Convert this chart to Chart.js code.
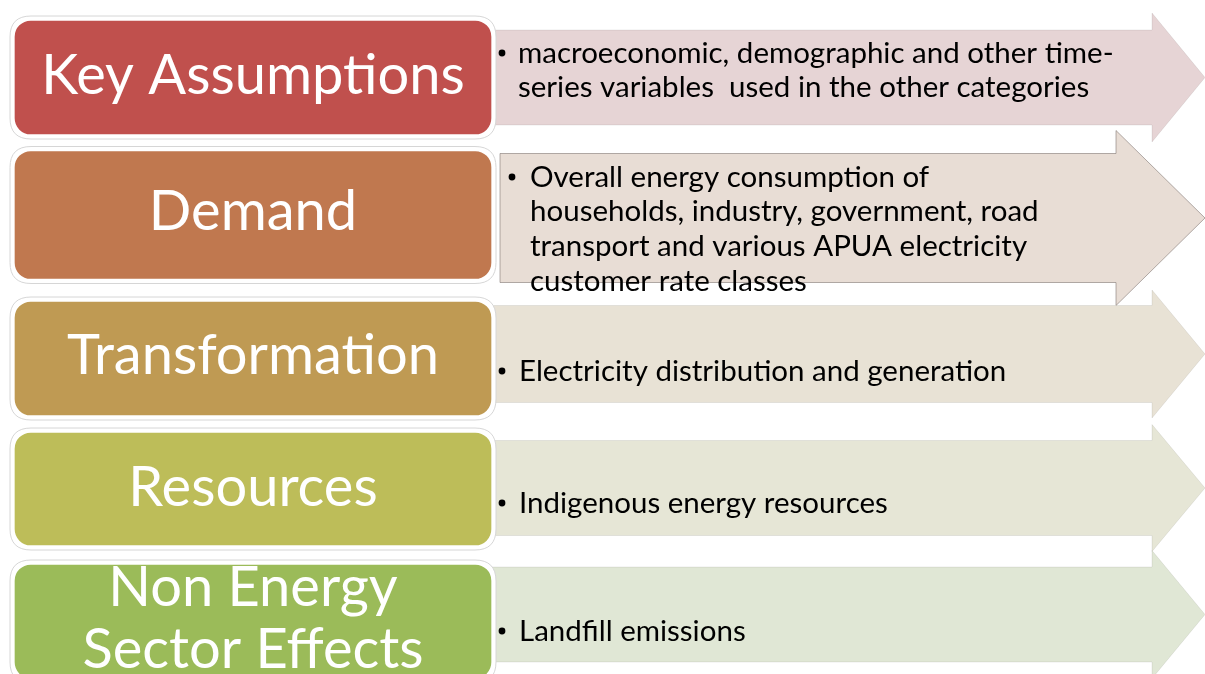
<!DOCTYPE html>
<html>
<head>
<meta charset="utf-8">
<script src="https://cdn.jsdelivr.net/npm/chart.js@4"></script>
<style>
  html, body { margin: 0; padding: 0; background: #fff; overflow: hidden; }
  #wrap { width: 1205px; height: 700px; position: relative; }
</style>
</head>
<body>
<div id="wrap"><canvas id="flowChart"></canvas></div>
<script>
// stages (rows) and the bullet text carried by each arrow
const stages = ['Key Assumptions', 'Demand', 'Transformation', 'Resources', 'Non Energy Sector Effects'];
const stageLines = [['Key Assumptions'], ['Demand'], ['Transformation'], ['Resources'], ['Non Energy', 'Sector Effects']];
const details = [
    ['macroeconomic, demographic and other time-', 'series variables  used in the other categories'],
    ['Overall energy consumption of', 'households, industry, government, road', 'transport and various APUA electricity', 'customer rate classes'],
    ['Electricity distribution and generation'],
    ['Indigenous energy resources'],
    ['Landfill emissions']
];

const boxColors = ['#c0504d', '#c0784f', '#bf9a53', '#bdbd59', '#9bbb59'];
const arrowColors = ['#e6d4d5', '#e8ddd5', '#e8e2d5', '#e6e6d6', '#e0e7d5'];

// shape settings, in x-axis units (0..1205) and pixels
const shape = {
    boxFrom: 15,
    boxTo: 491,
    boxH: [113, 127, 113, 112, 113],
    boxShift: [-2.5, -1, 6.5, 1, -2.5],
    arrowFrom: [480, 500, 480, 480, 480],
    arrowShift: [-2.5, 2, 2, 0, -9.5],
    headAt: [1152, 1116, 1152, 1152, 1152],
    tip: 1205,
    bodyH: [95, 129, 97, 95, 95],
    headH: [129, 175, 128, 127, 128],
    bulletX: [502, 512, 502, 502, 502],
    textX: [518, 530, 519, 519, 519],
    textShift: [-27, -39, 19, 15, 7],
    lineGap: 34.7,
    titleShift: [-4, -4, 4, 0, -5],
    titleGap: 62
};

const titleFont = '56px Lato';
const detailFont = '29.5px Lato';

function roundRect(ctx, x, y, w, h, r) {
    ctx.beginPath();
    ctx.moveTo(x + r, y);
    ctx.lineTo(x + w - r, y);
    ctx.quadraticCurveTo(x + w, y, x + w, y + r);
    ctx.lineTo(x + w, y + h - r);
    ctx.quadraticCurveTo(x + w, y + h, x + w - r, y + h);
    ctx.lineTo(x + r, y + h);
    ctx.quadraticCurveTo(x, y + h, x, y + h - r);
    ctx.lineTo(x, y + r);
    ctx.quadraticCurveTo(x, y, x + r, y);
    ctx.closePath();
}

const diagramPlugin = {
    id: 'diagram',
    afterDatasetsUpdate(chart) {
        // the Demand box is a little taller, rows are not spaced quite evenly
        chart.getDatasetMeta(0).data.forEach((bar, i) => {
            bar.height = shape.boxH[i];
            bar.y += shape.boxShift[i];
        });
    },
    beforeDatasetsDraw(chart) {
        const ctx = chart.ctx;
        const x = chart.scales.x;
        const y = chart.scales.y;
        ctx.save();
        // arrows behind the boxes
        stages.forEach((s, i) => {
            const cy = y.getPixelForValue(i) + shape.arrowShift[i];
            const x0 = x.getPixelForValue(shape.arrowFrom[i]);
            const xh = x.getPixelForValue(shape.headAt[i]);
            const xt = x.getPixelForValue(shape.tip);
            const bh = shape.bodyH[i] / 2;
            const hh = shape.headH[i] / 2;
            ctx.beginPath();
            ctx.moveTo(x0, cy - bh);
            ctx.lineTo(xh, cy - bh);
            ctx.lineTo(xh, cy - hh);
            ctx.lineTo(xt, cy);
            ctx.lineTo(xh, cy + hh);
            ctx.lineTo(xh, cy + bh);
            ctx.lineTo(x0, cy + bh);
            ctx.closePath();
            ctx.fillStyle = arrowColors[i];
            ctx.fill();
            ctx.lineWidth = 1;
            ctx.strokeStyle = i === 1 ? 'rgba(120,110,105,0.55)' : 'rgba(0,0,0,0.07)';
            ctx.stroke();
        });
        // white halo around each box
        chart.getDatasetMeta(0).data.forEach((bar) => {
            const p = bar.getProps(['x', 'y', 'base', 'height'], true);
            const left = Math.min(p.x, p.base);
            const w = Math.abs(p.x - p.base);
            roundRect(ctx, left - 5, p.y - p.height / 2 - 5, w + 10, p.height + 10, 21);
            ctx.fillStyle = '#ffffff';
            ctx.fill();
            ctx.strokeStyle = '#d6d6d6';
            ctx.lineWidth = 1;
            ctx.stroke();
        });
        ctx.restore();
    },
    afterDatasetsDraw(chart) {
        const ctx = chart.ctx;
        const x = chart.scales.x;
        const y = chart.scales.y;
        ctx.save();
        chart.getDatasetMeta(0).data.forEach((bar, i) => {
            const p = bar.getProps(['x', 'y', 'base'], true);
            const cx = (p.x + p.base) / 2;
            const rowY = y.getPixelForValue(i);
            // box title
            ctx.font = titleFont;
            ctx.fillStyle = '#ffffff';
            ctx.textAlign = 'center';
            ctx.textBaseline = 'middle';
            const lines = stageLines[i];
            lines.forEach((t, k) => {
                const ly = rowY + shape.titleShift[i] + (k - (lines.length - 1) / 2) * shape.titleGap;
                ctx.fillText(t, cx, ly);
            });
            // bullet text
            ctx.font = detailFont;
            ctx.fillStyle = '#000000';
            ctx.textAlign = 'left';
            const ty = rowY + shape.textShift[i];
            details[i].forEach((t, k) => {
                const ly = ty + k * shape.lineGap;
                if (k === 0) {
                    ctx.beginPath();
                    ctx.arc(x.getPixelForValue(shape.bulletX[i]), ly, 3.4, 0, Math.PI * 2);
                    ctx.fill();
                }
                ctx.fillText(t, x.getPixelForValue(shape.textX[i]), ly);
            });
        });
        ctx.restore();
    }
};

const ctx = document.getElementById('flowChart').getContext('2d');
const chart = new Chart(ctx, {
    type: 'bar',
    data: {
        labels: stages,
        datasets: [{
            label: 'Stage',
            data: stages.map(() => [shape.boxFrom, shape.boxTo]),
            backgroundColor: boxColors,
            borderWidth: 0,
            borderRadius: 16,
            borderSkipped: false,
            barThickness: 113
        }]
    },
    options: {
        indexAxis: 'y',
        responsive: true,
        maintainAspectRatio: false,
        animation: false,
        events: [],
        layout: { padding: { top: 12, bottom: 8, left: 0, right: 0 } },
        plugins: {
            legend: { display: false },
            tooltip: { enabled: false }
        },
        scales: {
            x: { type: 'linear', min: 0, max: 1205, display: false },
            y: { type: 'category', display: false }
        }
    },
    plugins: [diagramPlugin]
});
</script>
</body>
</html>
